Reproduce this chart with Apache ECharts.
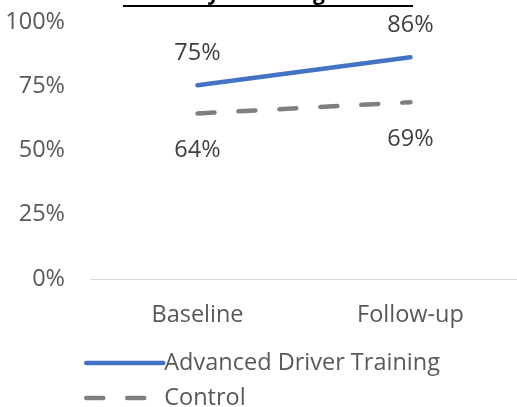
<!DOCTYPE html>
<html lang="en">
<head>
  <meta charset="UTF-8">
  <title>Mastery of driving skills</title>
  <style>
    html, body { margin: 0; padding: 0; background: #fff; }
    #main { width: 517px; height: 407px; }
  </style>
</head>
<body>
  <div id="main"></div>
<script src="https://cdn.jsdelivr.net/npm/echarts@6/dist/echarts.min.js"></script>
<script>
  var myChart = echarts.init(document.getElementById('main'));

  // categories and values (share of participants)
  var categories = ['Baseline', 'Follow-up'];
  var advanced = [0.754, 0.863];
  var control = [0.644, 0.688];
  var seriesNames = ['Advanced Driver Training', 'Control'];

  var font = 'Open Sans';
  var fs = 23.5;

  function pct(p) {
    return Math.round(p.value * 100) + '%';
  }

  // one legend per row so they stack like the original
  function legendRow(name, top) {
    return {
      orient: 'horizontal',
      left: 79,
      top: top,
      itemWidth: 77,
      itemHeight: 14,
      itemGap: 0,
      itemStyle: { color: 'rgba(0,0,0,0)', borderWidth: 0 },
      lineStyle: { width: 4.5, cap: 'round' },
      textStyle: { fontFamily: font, fontSize: fs, color: '#595959', padding: [0, 0, 0, -4] },
      data: [name]
    };
  }

  var option = {
    animation: false,
    title: {
      text: 'Mastery of driving skills',
      left: 'center',
      top: -21,
      textStyle: { fontFamily: font, fontSize: 21, fontWeight: 'bold', color: '#000' }
    },
    graphic: [{
      type: 'rect',
      shape: { x: 123, y: 5, width: 290, height: 2 },
      style: { fill: '#000' }
    }],
    legend: [legendRow(seriesNames[0], 346), legendRow(seriesNames[1], 381)],
    grid: { left: 91, width: 434, top: 22, bottom: 128 },
    xAxis: {
      type: 'category',
      data: categories,
      boundaryGap: true,
      axisTick: { show: false },
      axisLine: { lineStyle: { color: '#d9d9d9', width: 1 } },
      axisLabel: { fontFamily: font, fontSize: fs, color: '#595959', margin: 24 }
    },
    yAxis: {
      type: 'value',
      min: 0,
      max: 1,
      interval: 0.25,
      splitLine: { show: false },
      axisLine: { show: false },
      axisTick: { show: false },
      axisLabel: {
        fontFamily: font, fontSize: fs, color: '#595959', margin: 26,
        formatter: function (v) { return Math.round(v * 100) + '%'; }
      }
    },
    series: [
      {
        name: seriesNames[0],
        type: 'line',
        data: advanced,
        symbol: 'circle',
        symbolSize: 0,
        color: '#4472c4',
        lineStyle: { color: '#4472c4', width: 4.5, cap: 'round' },
        label: {
          show: true, position: 'top', distance: 20, formatter: pct,
          fontFamily: font, fontSize: fs, color: '#404040'
        }
      },
      {
        name: seriesNames[1],
        type: 'line',
        data: control,
        symbol: 'circle',
        symbolSize: 0,
        color: '#7f7f7f',
        lineStyle: { color: '#7f7f7f', width: 4.5, type: [17, 24], cap: 'round' },
        label: {
          show: true, position: 'bottom', distance: 25, formatter: pct,
          fontFamily: font, fontSize: fs, color: '#404040'
        }
      }
    ]
  };

  myChart.setOption(option);
</script>
</body>
</html>
